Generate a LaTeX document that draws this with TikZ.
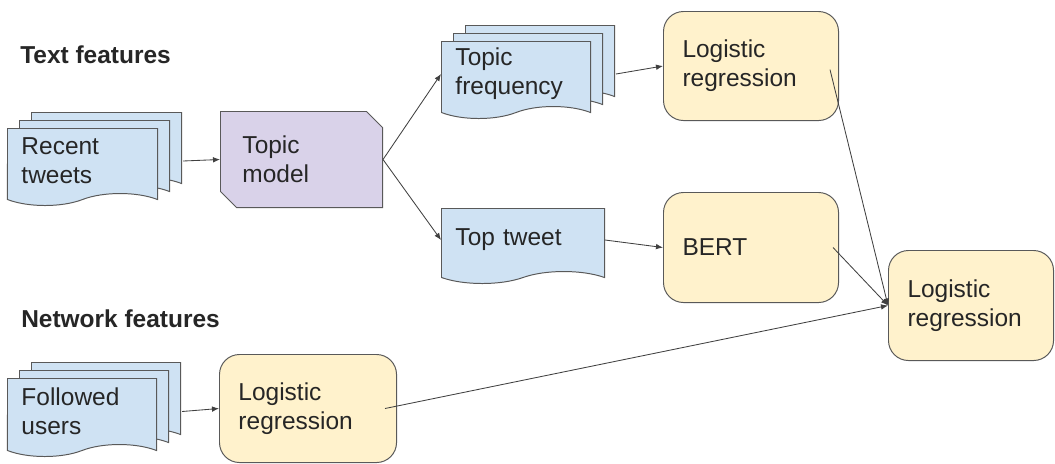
\documentclass[tikz,border=0pt]{standalone}
\usepackage{fontspec}
\setmainfont{Liberation Sans}
\usepackage{tikz}
\usetikzlibrary{positioning,arrows.meta,shapes.symbols,shapes.misc,shadows}
\definecolor{docblue}{HTML}{CFE2F3}
\definecolor{modelpurple}{HTML}{D9D2E9}
\definecolor{lryellow}{HTML}{FFF2CC}
\definecolor{edgegray}{HTML}{595959}
\definecolor{linegray}{HTML}{404040}
\definecolor{inkgray}{HTML}{262626}

\tikzset{
  doc/.style={shape=tape, tape bend top=none, tape bend bottom=in and out, tape bend height=0.3cm,
    draw=edgegray, fill=docblue, line width=0.7pt, anchor=north west, inner xsep=0.35cm, align=left, text=inkgray},
  docs/.style={doc,
    copy shadow={shadow xshift=0.6cm, shadow yshift=0.4cm, draw=edgegray, fill=docblue, line width=0.7pt},
    copy shadow={shadow xshift=0.3cm, shadow yshift=0.2cm, draw=edgegray, fill=docblue, line width=0.7pt}},
  modelbox/.style={chamfered rectangle, chamfered rectangle corners={north east,south west},
    chamfered rectangle xsep=0.2cm, chamfered rectangle ysep=0.2cm,
    draw=edgegray, fill=modelpurple, line width=0.7pt, anchor=north west, inner xsep=0.35cm, align=left, text=inkgray},
  lrbox/.style={rectangle, rounded corners=0.5cm, draw=edgegray, fill=lryellow, line width=0.7pt,
    anchor=north west, inner xsep=0.475cm, align=left, text=inkgray},
  conn/.style={draw=linegray, line width=0.6pt, -{Latex[length=5pt,width=4pt]}}
}

\begin{document}
\begin{tikzpicture}[x=0.025cm, y=-0.025cm, font=\fontsize{17.4}{20.6}\selectfont]
\useasboundingbox (0,0) rectangle (1055,463);

\node[anchor=base west, inner sep=0, text=inkgray] (txtlab) at (20,63) {\textbf{Text features}};
\node[anchor=base west, inner sep=0, text=inkgray] (netlab) at (21,327) {\textbf{Network features}};

\node[docs, text width=3.05cm, minimum height=1.925cm] (rt) at (7,128) {Recent\\tweets};
\node[modelbox, text width=2.95cm, minimum width=3.65cm, minimum height=2.4cm] (tm) at (220,111) {Topic\\model};
\node[docs, text width=3.025cm, minimum height=1.925cm] (tf) at (441,41) {Topic\\frequency};
\node[doc, text width=3.375cm, minimum height=1.875cm] (tt) at (441,208) {Top tweet};
\node[lrbox, text width=3.425cm, minimum width=4.375cm, minimum height=2.725cm] (lr1) at (663,11) {Logistic\\regression};
\node[lrbox, text width=3.425cm, minimum width=4.375cm, minimum height=2.75cm] (bert) at (663,192) {BERT};
\node[lrbox, text width=3.175cm, minimum width=4.125cm, minimum height=2.75cm] (fin) at (888,250) {Logistic\\regression};
\node[docs, text width=3.025cm, minimum height=1.95cm] (fu) at (7,378) {Followed\\users};
\node[lrbox, text width=3.475cm, minimum width=4.425cm, minimum height=2.7cm] (lr3) at (219,354) {Logistic\\regression};

\draw[conn] ([xshift=0.625cm]rt.east) -- (tm.west);
\draw[conn] (tm.east) -- (tf.west);
\draw[conn] (tm.east) -- (tt.west);
\draw[conn] ([xshift=0.625cm]tf.east) -- (lr1.west);
\draw[conn] (tt.east) -- (bert.west);
\draw[conn] ([xshift=0.625cm]fu.east) -- (lr3.west);
\draw[conn] ([shift={(-0.225cm,-0.09cm)}]lr1.east) -- (fin.west);
\draw[conn] ([xshift=-0.15cm]bert.east) -- (fin.west);
\draw[conn] ([xshift=-0.3cm]lr3.east) -- (fin.west);
\end{tikzpicture}
\end{document}
